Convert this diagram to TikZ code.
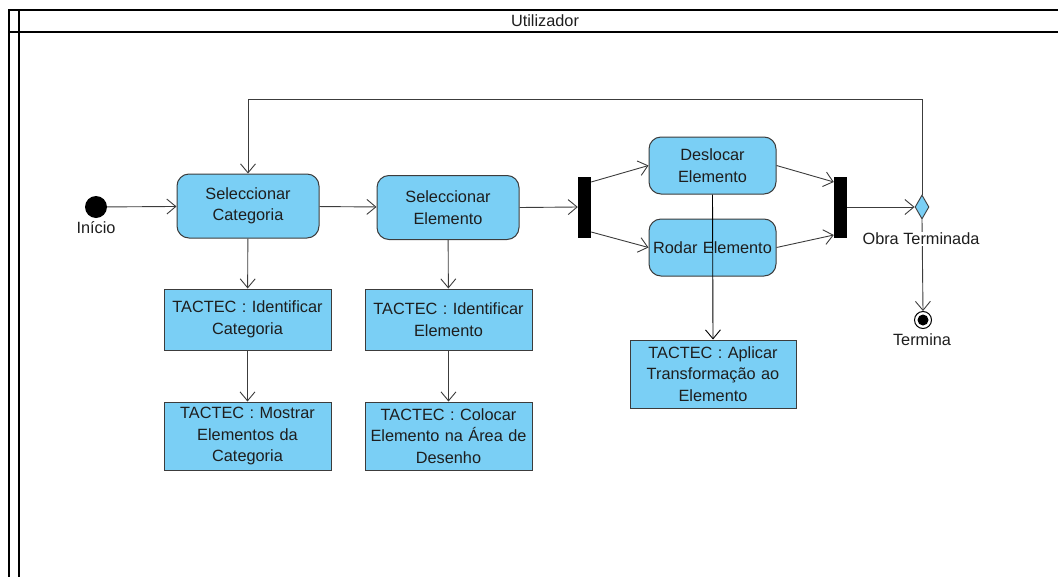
\documentclass[tikz,border=0pt]{standalone}
\usepackage{fontspec}
\setmainfont{Liberation Sans}
\usetikzlibrary{arrows.meta,shapes.geometric}
\definecolor{actfill}{RGB}{122,207,245}
\definecolor{edge}{RGB}{60,60,60}
\definecolor{txt}{RGB}{30,30,30}
\begin{document}
\begin{tikzpicture}[x=1pt,y=-1pt,
  every node/.style={text=txt,font=\fontsize{16.3}{21.5}\selectfont},
  act/.style={draw=edge,line width=1pt,fill=actfill,rounded corners=12pt,minimum width=142pt,minimum height=64pt,inner sep=0pt,align=center,text width=136pt},
  task/.style={draw=edge,line width=1pt,fill=actfill,minimum width=167pt,inner sep=0pt,align=center,text width=164pt},
  bar/.style={fill=black,draw=none,minimum width=13pt,minimum height=61pt,inner sep=0pt},
  flow/.style={draw=edge,line width=0.9pt,-{Straight Barb[length=9pt,width=15pt,line width=0.9pt]}},
  lbl/.style={fill=white,inner sep=1.5pt}
]
\useasboundingbox (0,0) rectangle (1058,576);
\begin{scope}
\clip (0,0) rectangle (1058,576);
% swimlane frame
\draw[black,line width=1.6pt] (9,600) -- (9,10) -- (1070,10);
\draw[black,line width=1.6pt] (9,32) -- (1070,32);
\draw[black,line width=1.6pt] (19,10) -- (19,600);
\end{scope}
\node (lane) at (545,21) {Utilizador};

% nodes
\node[circle,fill=black,minimum size=22pt,inner sep=0pt] (start) at (96,207) {};
\node[anchor=north,inner sep=1pt] (startlbl) at (96,220) {Início};

\node[act] (selcat) at (248,206) {Seleccionar\\Categoria};
\node[act] (selel) at (448,207.5) {Seleccionar\\Elemento};
\node[bar] (fork) at (584.5,207) {};
\node[act,minimum width=127pt,minimum height=57pt,text width=124pt] (desl) at (712.5,165.5) {Deslocar\\Elemento};
\node[act,minimum width=127pt,minimum height=57pt,text width=127pt] (rodar) at (712.5,247.5) {Rodar Elemento};
\node[bar] (join) at (840.5,207) {};
\node[diamond,draw=edge,line width=0.9pt,fill=actfill,minimum width=14pt,minimum height=24pt,inner sep=0pt] (dec) at (922,207) {};
\node[circle,draw=black,line width=1pt,fill=white,minimum size=17pt,inner sep=0pt] (final) at (923,320) {};
\node[circle,fill=black,minimum size=11pt,inner sep=0pt] (finalin) at (923,320) {};

\node[task,minimum height=61pt] (idcat) at (247.5,319.5) {TACTEC : Identificar\\Categoria};
\node[task,minimum height=68pt] (mostrar) at (247.5,436) {TACTEC : Mostrar\\Elementos da\\Categoria};
\node[task,minimum height=61pt] (idel) at (448.5,319.5) {TACTEC : Identificar\\Elemento};
\node[task,minimum height=68pt] (colocar) at (448.5,436) {TACTEC : Colocar\\Elemento na Área de\\Desenho};
\node[task,minimum width=166pt,minimum height=68pt] (aplicar) at (713,374) {TACTEC : Aplicar\\Transformação ao\\Elemento};

% connectors
\draw[flow] (start) -- (selcat);
\draw[flow] (selcat) -- (selel);
\draw[flow] (selel.east) -- (fork.west);
\draw[flow] ([yshift=25pt]fork.east) -- (desl.west);
\draw[flow] ([yshift=-25pt]fork.east) -- (rodar.west);
\draw[flow] (desl.east) -- ([yshift=25pt]join.west);
\draw[flow] (rodar.east) -- ([yshift=-28pt]join.west);
\draw[flow] (join.east) -- (dec.west);
\coordinate (loopr) at (922,99);
\coordinate (loopl) at (248,99);
\draw[flow] (dec.north) -- (loopr) -- (loopl) -- (selcat.north);
\draw[flow] (dec.south) -- (final.north);
\node[lbl] (declbl) at (921,239) {Obra Terminada};
\node[lbl] (finlbl) at (922,340) {Termina};
\draw[flow] (selcat) -- (idcat);
\draw[flow] (idcat) -- (mostrar);
\draw[flow] (selel) -- (idel);
\draw[flow] (idel) -- (colocar);
\draw[flow,draw=black] (desl.south) -- (aplicar.north);
\end{tikzpicture}
\end{document}
